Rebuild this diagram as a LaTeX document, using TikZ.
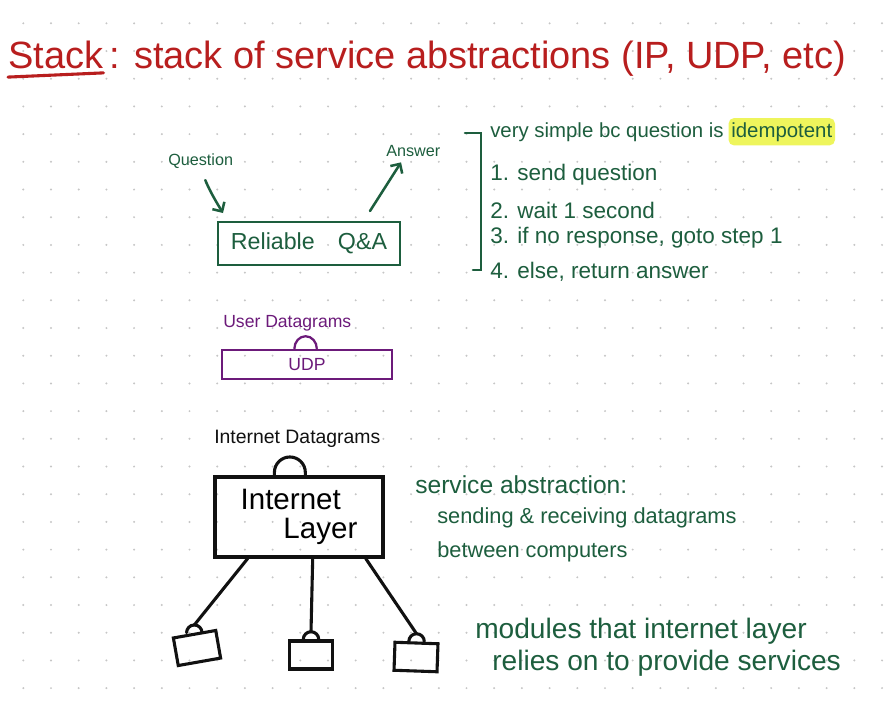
\documentclass[tikz,border=0pt]{standalone}
\usepackage{fontspec}
\setmainfont{Liberation Sans}
\usepackage{xcolor}
\usepackage{tikz}
\usetikzlibrary{positioning, arrows.meta, calc}
\definecolor{InkRed}{HTML}{B81E1E}
\definecolor{InkGreen}{HTML}{1D5E3E}
\definecolor{InkPurple}{HTML}{6C1A7A}
\definecolor{InkBlack}{HTML}{111111}
\definecolor{HiYellow}{HTML}{EEF55C}
\definecolor{GridDot}{HTML}{C6C6C6}
\tikzset{
  gline/.style={draw=InkGreen, line width=1.8pt, line cap=round},
  pline/.style={draw=InkPurple, line width=1.6pt},
  kline/.style={draw=InkBlack, line width=2.2pt, line cap=round},
  rline/.style={draw=InkRed, line width=2.2pt, line cap=round},
  qaflow/.style={gline, ->},
}
\tikzset{
  titletext/.style={text=InkRed, inner sep=0pt, anchor=base west, font=\fontsize{27}{30}\selectfont},
  gtext/.style={text=InkGreen, inner sep=0pt, anchor=base west},
  smalllabel/.style={gtext, font=\fontsize{11.5}{13}\selectfont},
  listhead/.style={gtext, font=\fontsize{14.5}{17}\selectfont},
  listline/.style={gtext, font=\fontsize{16}{19}\selectfont},
  svcline/.style={gtext, font=\fontsize{15.5}{18}\selectfont},
  modline/.style={gtext, font=\fontsize{20}{23}\selectfont},
  qabox/.style={gline, minimum width=4.55cm, minimum height=1.075cm, text=InkGreen,
    font=\fontsize{16.5}{19}\selectfont},
  udpbox/.style={pline, minimum width=4.25cm, minimum height=0.725cm, text=InkPurple,
    font=\fontsize{12.5}{14}\selectfont},
  layerbox/.style={kline, minimum width=4.2cm, minimum height=2.0cm, align=left,
    font=\fontsize{21}{21}\selectfont},
  modbox/.style={kline, minimum width=1.075cm, minimum height=0.7cm, inner sep=0pt},
}
\newcommand{\hookbox}[3]{%
  \node[modbox, rotate=#3] (#1) at (#2) {};
  \draw[kline] ([xshift=-5.5pt]#1.north) arc[start angle=180, end angle=0, radius=5.5pt];
  \coordinate (#1top) at ([yshift=5.5pt]#1.north);
}

\begin{document}
\begin{tikzpicture}[x=0.025cm, y=-0.025cm, >={Straight Barb[length=5pt, width=10pt]}]
  \useasboundingbox (0,0) rectangle (885,704);
  \fill[white] (0,0) rectangle (885,704);
  % dotted paper
  \foreach \i in {0,...,31} {
    \foreach \j in {0,...,24} {
      \fill[GridDot] ({23.3+27.7*\i},{23.3+27.7*\j}) circle (1.1);
    }
  }

  % title
  \node[titletext] (stackw) at (8,68) {Stack};
  \node[titletext] (titlerest) at ([xshift=4pt]stackw.base east) {: stack of service abstractions (IP, UDP, etc)};
  \draw[rline] ([yshift=-6pt]stackw.south west) -- ([yshift=-3pt]stackw.south east);

  % reliable Q&A
  \node[qabox] (qa) at (309,243.5) {Reliable\quad Q\&A};
  \node[smalllabel] (question) at (168,165) {Question};
  \node[smalllabel] (answer) at (386,156) {Answer};
  \coordinate (qin) at (223,213);
  \coordinate (aout) at (370,211);
  \draw[qaflow, shorten <=9pt] (question.south) to[bend right=5] (qin);
  \draw[qaflow, shorten >=5pt] (aout) -- ([xshift=-6pt]answer.south);

  % notes on Q&A
  \draw[gline] (465,133) -- (481,133) -- (481,270) -- (473,270);
  \node[listhead] (lhead) at (490,137) {very simple bc question is};
  \node[listhead, fill=HiYellow, inner xsep=2pt, inner ysep=3pt, rounded corners=4pt]
    (idem) at ([xshift=3pt]lhead.base east) {idempotent};
  \node[listline] (step1) at (490,180) {1. send question};
  \node[listline] (step2) at (490,218) {2. wait 1 second};
  \node[listline] (step3) at (490,243) {3. if no response, goto step 1};
  \node[listline] (step4) at (490,278) {4. else, return answer};

  % UDP
  \node[gtext, text=InkPurple, font=\fontsize{12.5}{14}\selectfont] (userdg) at (223,327) {User Datagrams};
  \node[udpbox] (udp) at (307,364.5) {UDP};
  \draw[pline] ([xshift=-9pt]udp.north) arc[start angle=180, end angle=0, x radius=8pt, y radius=9pt];

  % internet layer
  \node[gtext, text=InkBlack, font=\fontsize{13.8}{16}\selectfont] (inetdg) at (214,443) {Internet Datagrams};
  \node[layerbox] (layer) at (299,517) {Internet\\\hspace*{1.45em}Layer};
  \draw[kline] ([xshift=-17.5pt]layer.north) -- ++(0,-3)
    arc[start angle=180, end angle=0, x radius=11pt, y radius=11pt] -- ([xshift=4.5pt]layer.north);

  \hookbox{m1}{197,648}{10}
  \hookbox{m2}{311,655}{0}
  \hookbox{m3}{416,657}{-2}
  \draw[kline] ($(layer.south west)!0.2!(layer.south east)$) -- (m1top);
  \draw[kline] ($(layer.south west)!0.58!(layer.south east)$) -- (m2top);
  \draw[kline] ($(layer.south west)!0.89!(layer.south east)$) -- (m3top);

  % notes on internet layer
  \node[svcline, font=\fontsize{17.5}{20}\selectfont] (svc) at (415,493) {service abstraction:};
  \node[svcline] (svc2) at (437,523) {sending \& receiving datagrams};
  \node[svcline] (svc3) at (437,557) {between computers};
  \node[modline] (mods1) at (475,638) {modules that internet layer};
  \node[modline] (mods2) at (492,670) {relies on to provide services};
\end{tikzpicture}
\end{document}
